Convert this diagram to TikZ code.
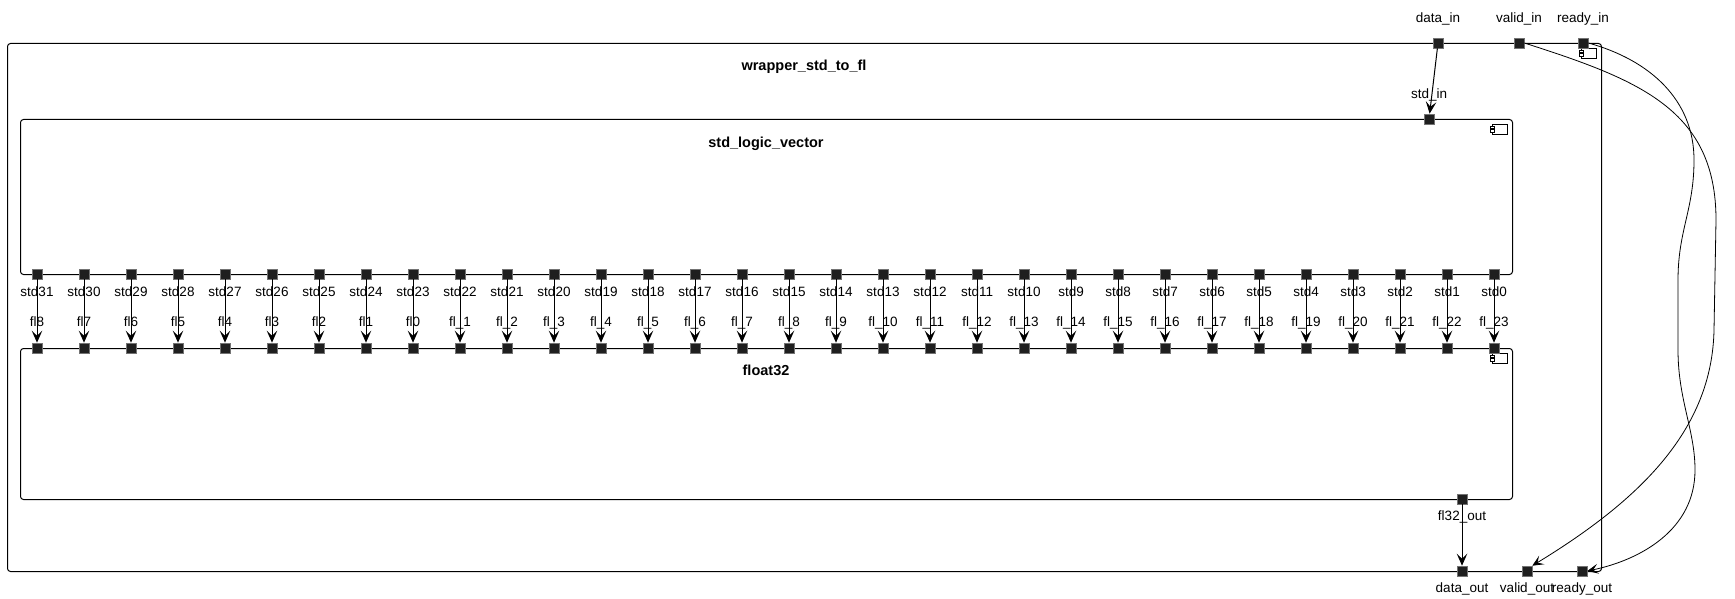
\documentclass[tikz,border=0pt]{standalone}
\usepackage{fontspec}
\setmainfont{Liberation Sans}
\usetikzlibrary{arrows.meta,positioning}

\begin{document}
\begin{tikzpicture}[x=1pt, y=-1pt,
    compicon/.pic={
        \draw [line width=0.7pt] (0,0) rectangle (15,10);
        \draw [line width=0.6pt, fill=white] (-2,2) rectangle (2,4.5);
        \draw [line width=0.6pt, fill=white] (-2,5.5) rectangle (2,8);
    }]
    % Stili
    \tikzstyle{box}=[rectangle, rounded corners=3pt, draw=black, line width=1pt, anchor=north west, inner sep=0pt]
    \tikzstyle{boxtitle}=[font=\bfseries\fontsize{14.5}{17}\selectfont, anchor=base, inner sep=0pt]
    \tikzstyle{port}=[rectangle, draw=black!55, fill=black!88, line width=0.6pt, minimum size=10pt, inner sep=0pt]
    \tikzstyle{lbl}=[font=\fontsize{13.5}{16}\selectfont, anchor=base, inner sep=0pt]
    \tikzstyle{arrow}=[-{Stealth[length=12pt, width=10.5pt, inset=5pt]}, line width=1pt]
    \tikzstyle{wire}=[-{Stealth[length=11pt, width=10pt, inset=5pt]}, line width=0.8pt]

    \useasboundingbox (0,0) rectangle (1735,599);

    % Blocchi
    \node (wrapper) [box, minimum width=1594pt, minimum height=528pt] at (7,43) {};
    \node (slv) [box, minimum width=1492pt, minimum height=155pt] at (20,119) {};
    \node (float) [box, minimum width=1492pt, minimum height=151pt] at (20,348) {};
    \node (wrapperTitle) [boxtitle] at (804,70.5) {wrapper\_std\_to\_fl};
    \node (slvTitle) [boxtitle] at (766,147) {std\_logic\_vector};
    \node (floatTitle) [boxtitle] at (766,375) {float32};
    \pic at (1581,48) {compicon};
    \pic at (1492,124) {compicon};
    \pic at (1492,353) {compicon};

    % Porte
    \node (dataIn) [port] at (1438,43) {};
    \node (validIn) [port] at (1519,43) {};
    \node (readyIn) [port] at (1583,43) {};
    \node (stdIn) [port] at (1429,119) {};
    \node (flOut) [port] at (1462,499) {};
    \node (dataOut) [port] at (1462,571) {};
    \node (validOut) [port] at (1527,571) {};
    \node (readyOut) [port] at (1582,571) {};

    \node (dataInLbl) [lbl] at (1438,22.5) {data\_in};
    \node (validInLbl) [lbl] at (1519,22.5) {valid\_in};
    \node (readyInLbl) [lbl] at (1583,22.5) {ready\_in};
    \node (stdInLbl) [lbl] at (1429,98.5) {std\_in};
    \node (flOutLbl) [lbl] at (1462,520) {fl32\_out};
    \node (dataOutLbl) [lbl] at (1462,592.5) {data\_out};
    \node (validOutLbl) [lbl] at (1527,592.5) {valid\_out};
    \node (readyOutLbl) [lbl] at (1582,592.5) {ready\_out};

    % Bit
    \foreach \i in {0,...,31} {
        \pgfmathtruncatemacro{\n}{31-\i}
        \pgfmathtruncatemacro{\m}{abs(\i-8)}
        \pgfmathsetmacro{\px}{37+47*\i}
        \node (std\n) [port] at (\px,274) {};
        \node (fl\i) [port] at (\px,348) {};
        \node (stdLbl\n) [lbl] at (\px,296.5) {std\n};
        \ifnum\i<9
            \node (flLbl\i) [lbl] at (\px,326) {fl\m};
        \else
            \node (flLbl\i) [lbl] at (\px,326) {fl\_\m};
        \fi
        \draw [arrow] (std\n) -- (fl\i);
    }

    % Collegamenti
    \draw [arrow] (dataIn) -- (stdIn);
    \draw [arrow] (flOut) -- (dataOut);
    \draw [wire] (validIn.east) .. controls (1640,80) and (1716,110) .. (1716,220)
        -- (1714,330) .. controls (1712,430) and (1640,500) .. (validOut.north east);
    \draw [wire] (readyIn.east) .. controls (1650,60) and (1694,100) .. (1694,160)
        .. controls (1694,210) and (1678,230) .. (1678,280) -- (1678,350)
        .. controls (1678,400) and (1695,430) .. (1695,470)
        .. controls (1695,530) and (1640,560) .. (readyOut.east);

\end{tikzpicture}
\end{document}
